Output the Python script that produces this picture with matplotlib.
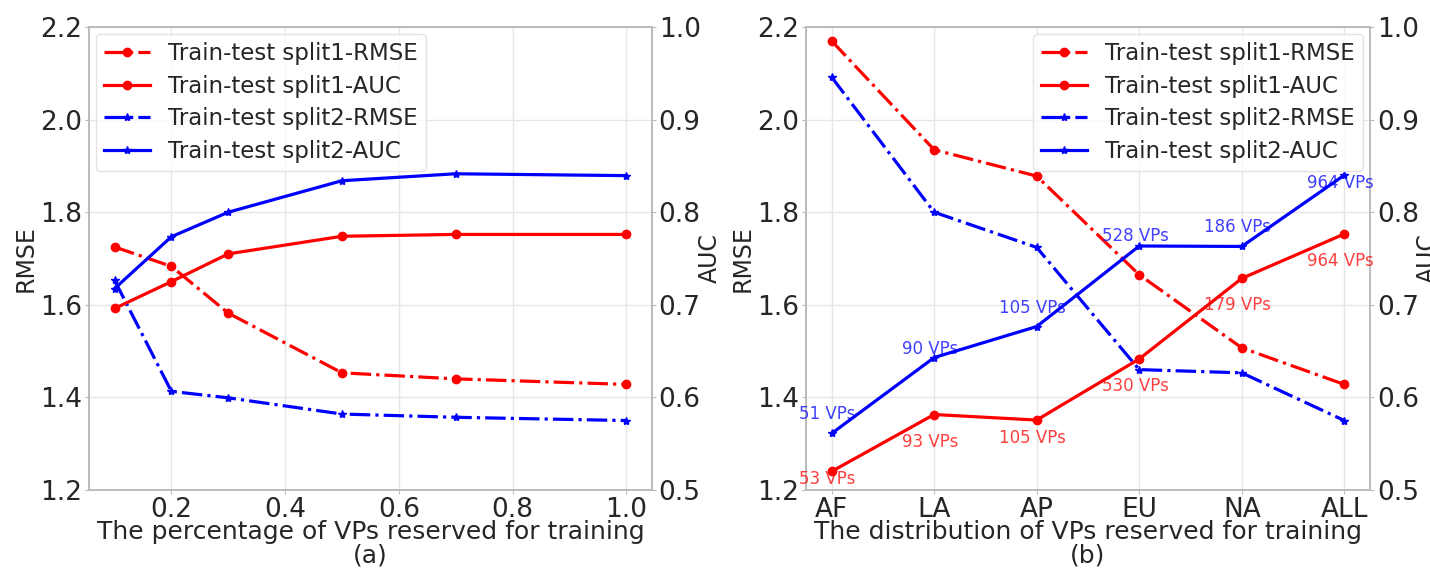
import numpy as np
import matplotlib
matplotlib.use("Agg")
import matplotlib.pyplot as plt

# panel (a): percentage of VPs reserved for training
pct = [0.1, 0.2, 0.3, 0.5, 0.7, 1.0]
a_rmse1 = [1.725, 1.683, 1.582, 1.453, 1.440, 1.428]
a_auc1 = [0.696, 0.725, 0.755, 0.774, 0.776, 0.776]
a_rmse2 = [1.653, 1.413, 1.399, 1.364, 1.357, 1.350]
a_auc2 = [0.7175, 0.7735, 0.800, 0.834, 0.8415, 0.8395]

# panel (b): distribution of VPs reserved for training
regions = ["AF", "LA", "AP", "EU", "NA", "ALL"]
b_rmse1 = [2.170, 1.935, 1.878, 1.665, 1.507, 1.428]
b_auc1 = [0.520, 0.5815, 0.5755, 0.6415, 0.7285, 0.7765]
b_rmse2 = [2.092, 1.800, 1.724, 1.460, 1.453, 1.350]
b_auc2 = [0.561, 0.643, 0.6765, 0.7635, 0.763, 0.840]
vps1 = ["53 VPs", "93 VPs", "105 VPs", "530 VPs", "179 VPs", "964 VPs"]
vps2 = ["51 VPs", "90 VPs", "105 VPs", "528 VPs", "186 VPs", "964 VPs"]

# label offsets in pixels (vertical)
off1 = [-8, -27, -18, -27, -27, -27]
off2 = [19, 9, 19, 10, 19, -8]

plt.rcParams['font.family'] = ['DejaVu Sans']
plt.rcParams['text.color'] = '#262626'
plt.rcParams['axes.labelcolor'] = '#262626'
plt.rcParams['xtick.color'] = '#262626'
plt.rcParams['ytick.color'] = '#262626'

fig = plt.figure(figsize=(14.3, 5.7), dpi=100)
ax_a = fig.add_axes([0.0622, 0.1404, 0.3936, 0.8122])
ax_b = fig.add_axes([0.5636, 0.1404, 0.3944, 0.8122])


def draw_panel(ax, x, rmse1, auc1, rmse2, auc2, xlabel, loc):
    ax2 = ax.twinx()
    h1, = ax.plot(x, rmse1, color='red', ls='-.', lw=2.3, marker='o', ms=6,
                  label='Train-test split1-RMSE')
    h3, = ax.plot(x, rmse2, color='blue', ls='-.', lw=2.3, marker='*', ms=6,
                  label='Train-test split2-RMSE')
    h2, = ax2.plot(x, auc1, color='red', ls='-', lw=2.3, marker='o', ms=6,
                   label='Train-test split1-AUC')
    h4, = ax2.plot(x, auc2, color='blue', ls='-', lw=2.3, marker='*', ms=6,
                   label='Train-test split2-AUC')
    ax.set_ylim(1.2, 2.2)
    ax2.set_ylim(0.5, 1.0)
    ax.set_yticks(np.arange(1.2, 2.21, 0.2))
    ax2.set_yticks(np.arange(0.5, 1.01, 0.1))
    ax.set_ylabel('RMSE', fontsize=17, labelpad=2)
    ax2.set_ylabel('AUC', fontsize=17, labelpad=-2)
    ax.set_xlabel(xlabel, fontsize=18, linespacing=0.95, labelpad=-2)
    ax.grid(True, color='#e6e6e6', lw=1)
    for a in (ax, ax2):
        a.tick_params(labelsize=19, length=3, color='#bbbbbb', pad=2)
        for s in a.spines.values():
            s.set_color('#bbbbbb')
            s.set_linewidth(1.2)
    ax2.legend([h1, h2, h3, h4],
               [h.get_label() for h in (h1, h2, h3, h4)],
               loc=loc, fontsize=16.5, framealpha=0.8,
               edgecolor='#dddddd', fancybox=True, labelspacing=0.42,
               borderpad=0.35, borderaxespad=0.3)
    return ax2


draw_panel(ax_a, pct, a_rmse1, a_auc1, a_rmse2, a_auc2,
           'The percentage of VPs reserved for training\n(a)', 'upper left')
ax_a.set_xticks([0.2, 0.4, 0.6, 0.8, 1.0])

xb = np.arange(len(regions))
ax_b2 = draw_panel(ax_b, xb, b_rmse1, b_auc1, b_rmse2, b_auc2,
                   'The distribution of VPs reserved for training\n(b)', 'upper right')
ax_b.set_xticks(xb)
ax_b.set_xticklabels(regions)

for i in range(len(regions)):
    ax_b2.annotate(vps1[i], (xb[i], b_auc1[i]), xytext=(-4, off1[i]),
                   textcoords='offset pixels', ha='center', va='center',
                   fontsize=12, color='red', alpha=0.75)
    ax_b2.annotate(vps2[i], (xb[i], b_auc2[i]), xytext=(-4, off2[i]),
                   textcoords='offset pixels', ha='center', va='center',
                   fontsize=12, color='blue', alpha=0.75)

fig.savefig('out.png', dpi=100)
